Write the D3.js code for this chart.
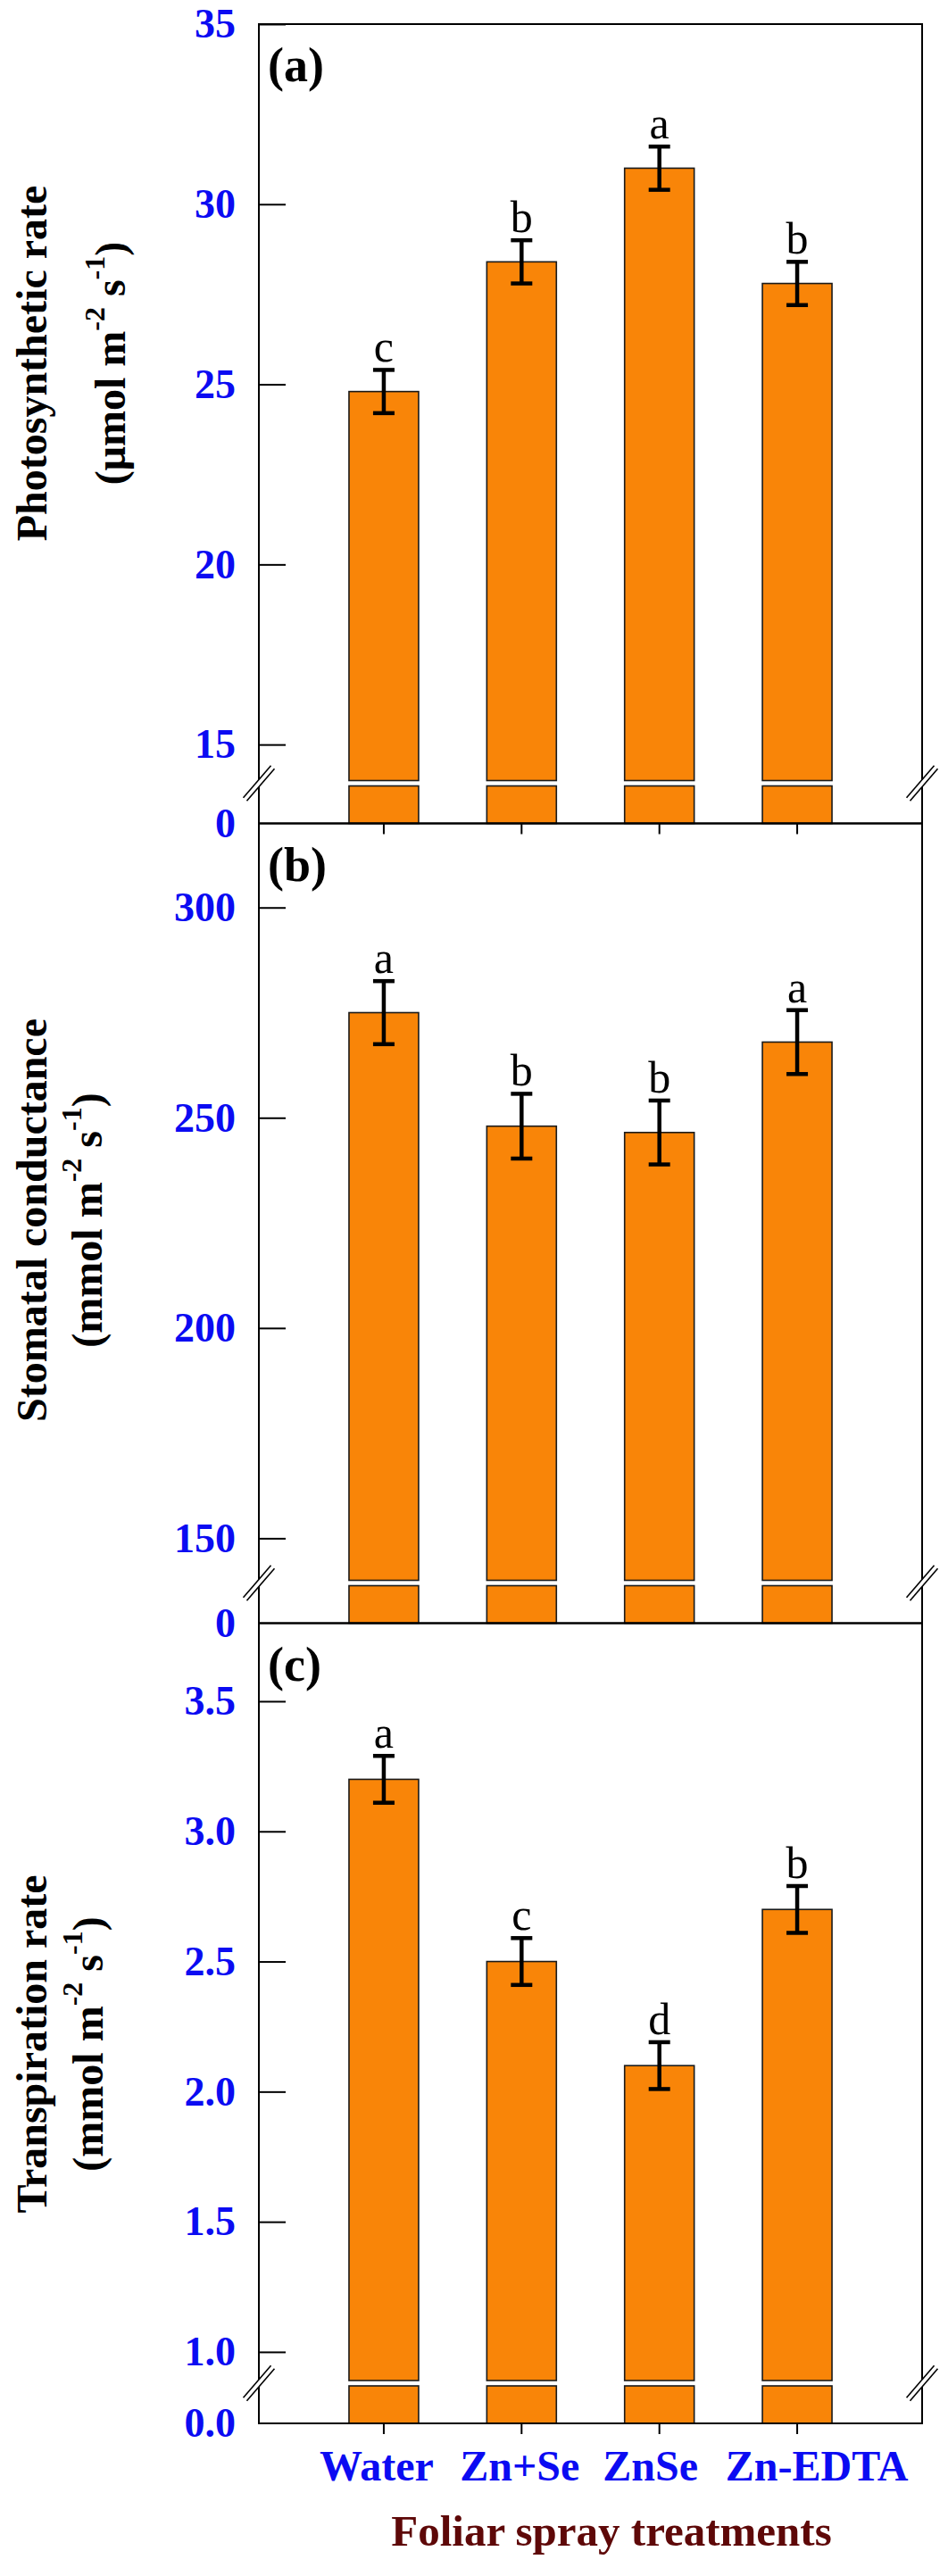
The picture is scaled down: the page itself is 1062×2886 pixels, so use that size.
<!DOCTYPE html>
<html>
<head>
<meta charset="utf-8">
<script src="https://cdn.jsdelivr.net/npm/d3@7"></script>
<style>
  body { margin: 0; background: #fff; }
  svg { display: block; }
</style>
</head>
<body>
<div id="chart"></div>
<script>
// data (means, standard errors, letters)
const categories = ["Water", "Zn+Se", "ZnSe", "Zn-EDTA"];

const photoMean = [24.8, 28.4, 31.0, 27.8];
const photoSE = [0.6, 0.6, 0.6, 0.6];
const photoLetters = ["c", "b", "a", "b"];
const photoTicks = [15, 20, 25, 30, 35];

const stomMean = [275, 248, 246.5, 268];
const stomSE = [7.5, 7.7, 7.6, 7.6];
const stomLetters = ["a", "b", "b", "a"];
const stomTicks = [150, 200, 250, 300];

const transMean = [3.2, 2.5, 2.1, 2.7];
const transSE = [0.09, 0.09, 0.09, 0.09];
const transLetters = ["a", "c", "d", "b"];
const transTicks = [1.0, 1.5, 2.0, 2.5, 3.0, 3.5];

let width = 1062,
    height = 2886,
    left = 290,
    right = 1033;

const serif = "'Liberation Serif', 'Times New Roman', serif";
const blue = "#0b0bf2";
const barFill = "#f98508";
const labelNudge = [-8, -2, -10, 22]; // the category labels sit a little off their ticks

const panels = [
  { tag: "(a)", mean: photoMean, se: photoSE, letters: photoLetters, ticks: photoTicks,
    domain: [14, 35], fmt: d3.format("d"), zero: "0", top: 27, bottom: 922.5,
    title: "Photosynthetic rate", unit: "(μmol m", titleY: 407, unitX: 140, xTicks: true },
  { tag: "(b)", mean: stomMean, se: stomSE, letters: stomLetters, ticks: stomTicks,
    domain: [140, 320], fmt: d3.format("d"), zero: "0", top: 922.5, bottom: 1818.5,
    title: "Stomatal conductance", unit: "(mmol m", titleY: 1367, unitX: 114, xTicks: false },
  { tag: "(c)", mean: transMean, se: transSE, letters: transLetters, ticks: transTicks,
    domain: [0.89, 3.8], fmt: d3.format(".1f"), zero: "0.0", top: 1818.5, bottom: 2715,
    title: "Transpiration rate", unit: "(mmol m", titleY: 2290, unitX: 115, xTicks: true }
];

const svg = d3.select("#chart")
  .append("svg")
  .attr("width", width)
  .attr("height", height)
  .attr("viewBox", [0, 0, width, height]);

svg.append("rect").attr("width", width).attr("height", height).attr("fill", "#fff");

let x = d3.scaleBand()
  .domain(categories)
  .range([left, right])
  .paddingInner(0.495)
  .paddingOuter(0.654);

panels.forEach((p, k) => {
  const rows = categories.map((c, i) => ({ cat: c, mean: p.mean[i], se: p.se[i], letter: p.letters[i] }));

  // broken axis: upper part for the data, short stub near zero
  let y = d3.scaleLinear()
    .domain(p.domain)
    .range([p.bottom - 48, p.top]);

  let y0 = d3.scaleLinear()
    .domain([0, p.domain[0]])
    .range([p.bottom, p.bottom - 42]);

  const g = svg.append("g");

  // bars (upper piece + stub)
  g.append("g")
    .selectAll("rect")
    .data(rows)
    .join("rect")
    .attr("x", d => x(d.cat))
    .attr("width", x.bandwidth())
    .attr("y", d => y(d.mean))
    .attr("height", d => y(p.domain[0]) - y(d.mean))
    .attr("fill", barFill)
    .attr("stroke", "#1a1a1a")
    .attr("stroke-width", 1.6);

  g.append("g")
    .selectAll("rect")
    .data(rows)
    .join("rect")
    .attr("x", d => x(d.cat))
    .attr("width", x.bandwidth())
    .attr("y", y0(p.domain[0]))
    .attr("height", y0(0) - y0(p.domain[0]))
    .attr("fill", barFill)
    .attr("stroke", "#1a1a1a")
    .attr("stroke-width", 1.6);

  // error bars
  const eb = g.append("g")
    .attr("stroke", "#000")
    .attr("stroke-width", 4.5)
    .selectAll("g")
    .data(rows)
    .join("g")
    .attr("transform", d => `translate(${x(d.cat) + x.bandwidth() / 2},0)`);

  eb.append("line")
    .attr("y1", d => y(d.mean - d.se))
    .attr("y2", d => y(d.mean + d.se));
  eb.append("line")
    .attr("x1", -12).attr("x2", 12)
    .attr("y1", d => y(d.mean + d.se)).attr("y2", d => y(d.mean + d.se));
  eb.append("line")
    .attr("x1", -12).attr("x2", 12)
    .attr("y1", d => y(d.mean - d.se)).attr("y2", d => y(d.mean - d.se));

  // significance letters
  g.append("g")
    .selectAll("text")
    .data(rows)
    .join("text")
    .attr("x", d => x(d.cat) + x.bandwidth() / 2)
    .attr("y", d => y(d.mean + d.se) - 9)
    .attr("text-anchor", "middle")
    .attr("font-family", serif)
    .attr("font-size", 50)
    .text(d => d.letter);

  // y axis, ticks pointing inward
  const ya = g.append("g")
    .attr("transform", `translate(${left},0)`)
    .call(d3.axisLeft(y).tickValues(p.ticks).tickFormat(p.fmt)
      .tickSizeInner(-30).tickSizeOuter(0).tickPadding(26));
  const yz = g.append("g")
    .attr("transform", `translate(${left},0)`)
    .call(d3.axisLeft(y0).tickValues([0]).tickFormat(() => p.zero)
      .tickSize(0).tickPadding(26));
  [ya, yz].forEach(a => {
    a.select(".domain").remove();
    a.selectAll("line").attr("stroke", "#000").attr("stroke-width", 2);
    a.selectAll("text")
      .attr("fill", blue)
      .attr("font-family", serif)
      .attr("font-weight", "bold")
      .attr("font-size", 46);
  });

  // x axis ticks below panels (a) and (c), labels only on the last one
  if (p.xTicks) {
    const xa = g.append("g")
      .attr("transform", `translate(0,${p.bottom})`)
      .call(d3.axisBottom(x).tickSizeInner(12).tickSizeOuter(0).tickPadding(18)
        .tickFormat(k === panels.length - 1 ? d => d : () => ""));
    xa.select(".domain").remove();
    xa.selectAll("line").attr("stroke", "#000").attr("stroke-width", 2);
    xa.selectAll("text")
      .attr("dx", (d, i) => labelNudge[i])
      .attr("fill", blue)
      .attr("font-family", serif)
      .attr("font-weight", "bold")
      .attr("font-size", 48);
  }

  // frame
  g.append("rect")
    .attr("x", left)
    .attr("y", p.top)
    .attr("width", right - left)
    .attr("height", p.bottom - p.top)
    .attr("fill", "none")
    .attr("stroke", "#000")
    .attr("stroke-width", 2);

  // break marks on both vertical axes
  const by = p.bottom - 45;
  [left, right].forEach(bx => {
    const bm = g.append("g").attr("transform", `translate(${bx},${by})`);
    bm.append("line")
      .attr("x1", -15.5).attr("y1", 18).attr("x2", 15.5).attr("y2", -18)
      .attr("stroke", "#fff").attr("stroke-width", 5);
    [-2.6, 2.6].forEach(o => {
      bm.append("line")
        .attr("x1", -15.5 + o * 0.758).attr("y1", 18 + o * 0.653)
        .attr("x2", 15.5 + o * 0.758).attr("y2", -18 + o * 0.653)
        .attr("stroke", "#000").attr("stroke-width", 1.6);
    });
  });

  // panel tag
  g.append("text")
    .attr("x", left + 10)
    .attr("y", p.top + 64)
    .attr("font-family", serif)
    .attr("font-weight", "bold")
    .attr("font-size", 54)
    .text(p.tag);

  // y title, two rotated lines
  g.append("text")
    .attr("transform", `translate(52,${p.titleY}) rotate(-90)`)
    .attr("text-anchor", "middle")
    .attr("font-family", serif)
    .attr("font-weight", "bold")
    .attr("font-size", 48)
    .text(p.title);

  const t2 = g.append("text")
    .attr("transform", `translate(${p.unitX},${p.titleY}) rotate(-90)`)
    .attr("text-anchor", "middle")
    .attr("font-family", serif)
    .attr("font-weight", "bold")
    .attr("font-size", 48);
  t2.append("tspan").text(p.unit);
  t2.append("tspan").attr("dy", -23).attr("font-size", 32).text("-2");
  t2.append("tspan").attr("dy", 23).text(" s");
  t2.append("tspan").attr("dy", -23).attr("font-size", 32).text("-1");
  t2.append("tspan").attr("dy", 23).text(")");
});

// x axis title
svg.append("text")
  .attr("x", 685)
  .attr("y", 2852)
  .attr("text-anchor", "middle")
  .attr("fill", "#5e0808")
  .attr("font-family", serif)
  .attr("font-weight", "bold")
  .attr("font-size", 49)
  .text("Foliar spray treatments");
</script>
</body>
</html>
